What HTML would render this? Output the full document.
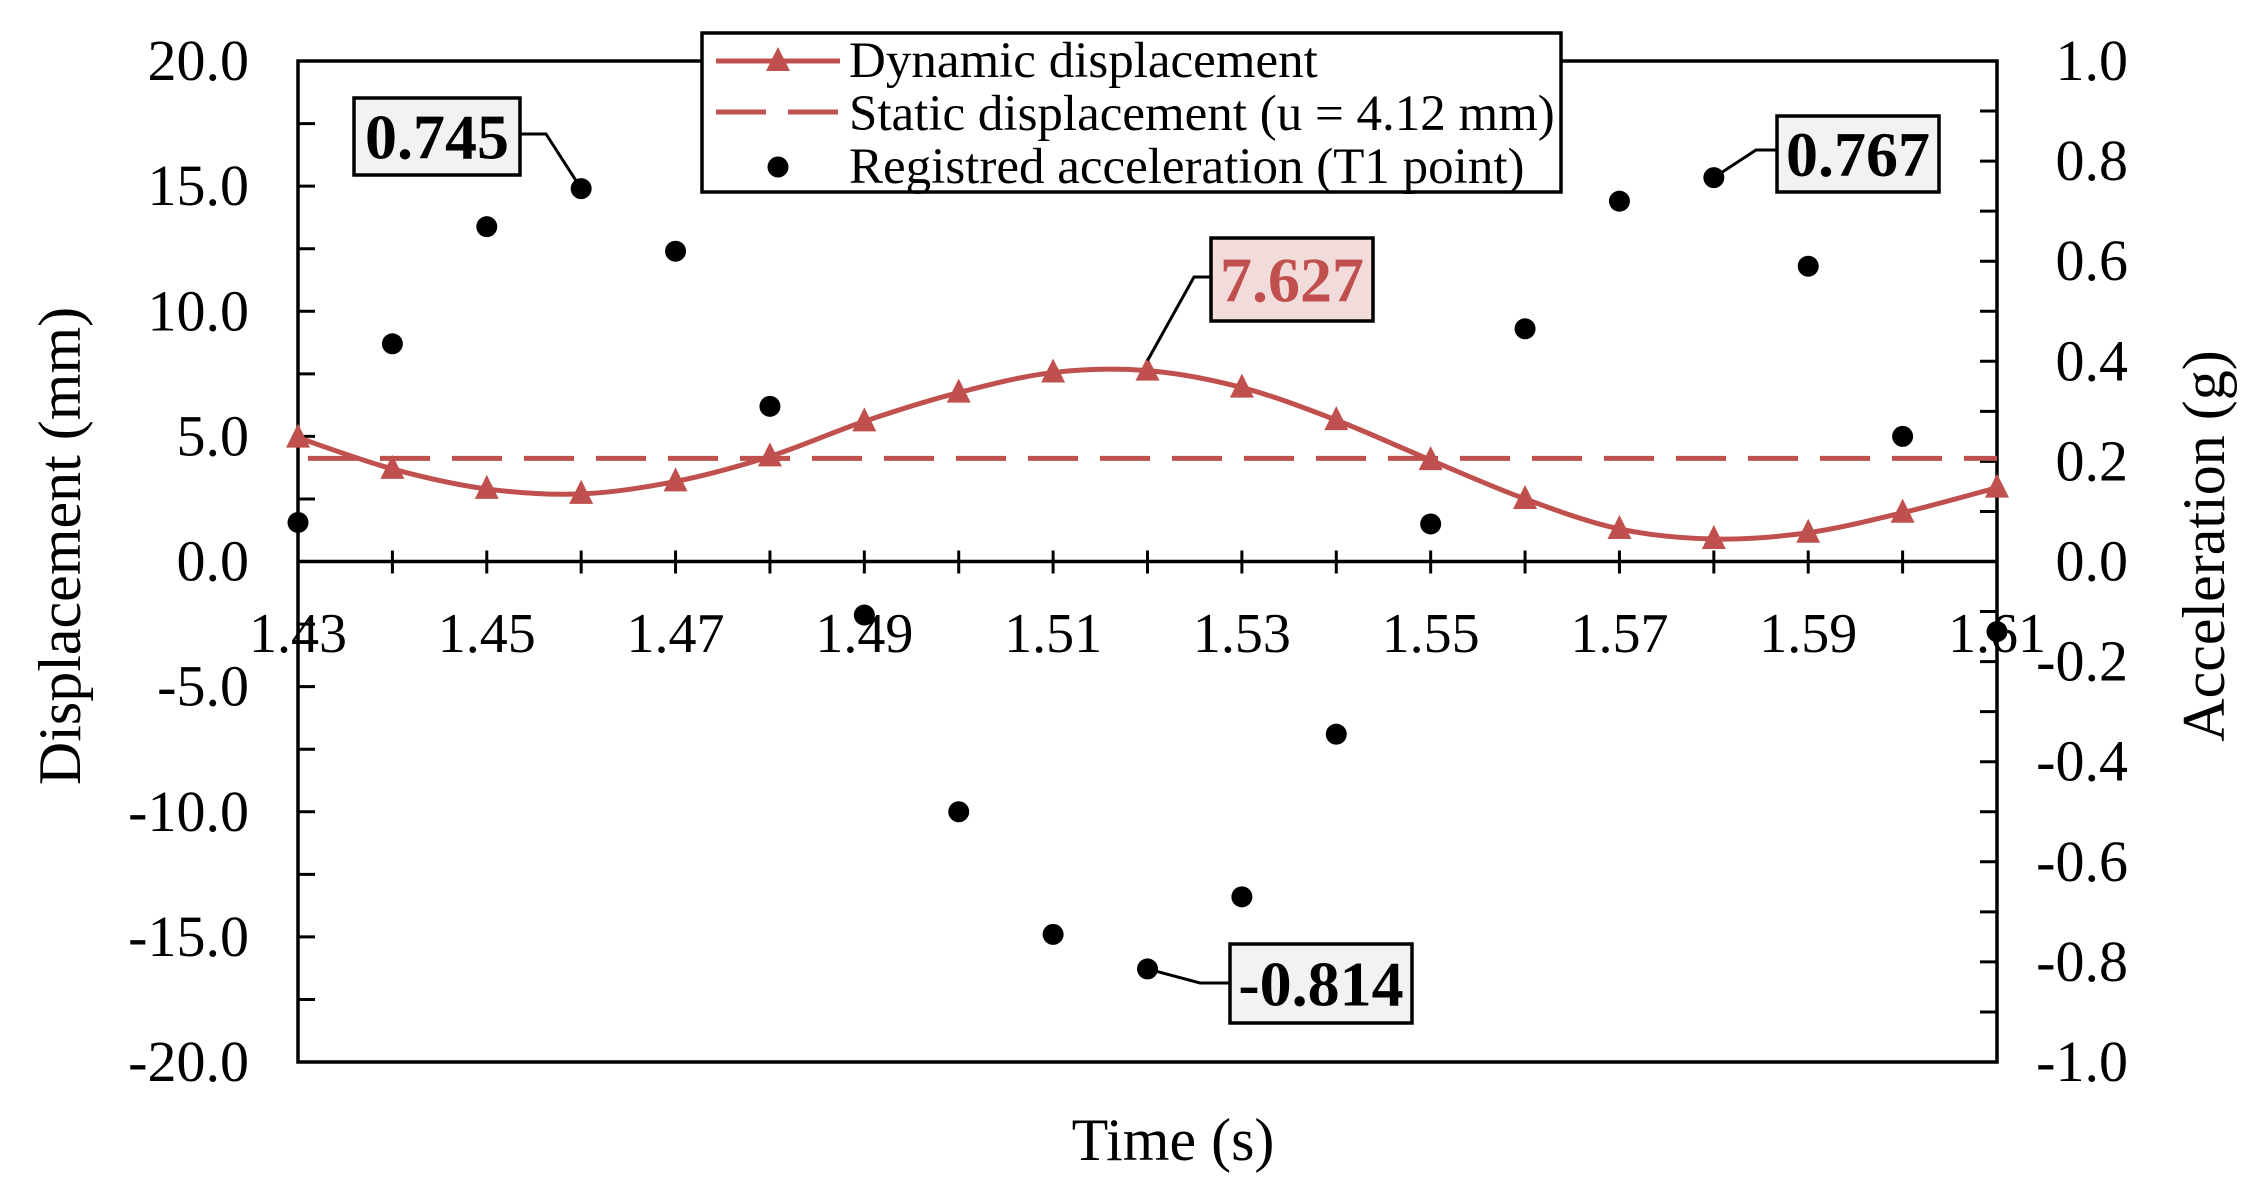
<!DOCTYPE html>
<html><head><meta charset="utf-8"><style>
html,body{margin:0;padding:0;background:#fff;}
svg{display:block;font-family:"Liberation Serif",serif;}
</style></head><body>
<svg id="chart" width="2266" height="1198" viewBox="0 0 2266 1198" xmlns="http://www.w3.org/2000/svg"></svg>
<script>
const times=[1.43,1.44,1.45,1.46,1.47,1.48,1.49,1.50,1.51,1.52,1.53,1.54,1.55,1.56,1.57,1.58,1.59,1.60,1.61];
const dynDisp=[4.95,3.7,2.9,2.7,3.2,4.2,5.6,6.75,7.55,7.627,6.95,5.65,4.05,2.5,1.3,0.9,1.15,1.95,2.95];
const accel=[0.078,0.435,0.669,0.745,0.62,0.31,-0.107,-0.5,-0.745,-0.814,-0.67,-0.345,0.075,0.465,0.72,0.767,0.59,0.25,-0.14];
const staticDisp=4.12;
const xTickLabels=["1.43","1.45","1.47","1.49","1.51","1.53","1.55","1.57","1.59","1.61"];
const leftTickLabels=["20.0","15.0","10.0","5.0","0.0","-5.0","-10.0","-15.0","-20.0"];
const rightTickLabels=["1.0","0.8","0.6","0.4","0.2","0.0","-0.2","-0.4","-0.6","-0.8","-1.0"];

const L=298,R=1997,T=61,B=1062,RED="#c0504d";
const X=t=>L+(t-1.43)/(0.18)*(R-L);
const Y=v=>T+(20-v)/40*(B-T);
const YA=a=>T+(1-a)/2*(B-T);
const NS="http://www.w3.org/2000/svg";
const svg=document.getElementById('chart');
function mk(tag,attrs,parent){const e=document.createElementNS(NS,tag);for(const k in attrs)e.setAttribute(k,attrs[k]);(parent||svg).appendChild(e);return e;}

const frame=mk('rect',{x:L,y:T,width:R-L,height:B-T,fill:'none',stroke:'#000','stroke-width':3.5});


const xaxis=mk('line',{x1:L,y1:Y(0),x2:R,y2:Y(0),stroke:'#000','stroke-width':3.5});



for(let v=-20;v<=20;v+=2.5){mk('line',{x1:L,y1:Y(v),x2:L+17,y2:Y(v),stroke:'#000','stroke-width':3});}
leftTickLabels.forEach(s=>{const v=parseFloat(s);const t=mk('text',{x:249,y:Y(v)+19,'text-anchor':'end','font-size':58,textLength:0});t.removeAttribute('textLength');t.textContent=s;

});
for(let i=-10;i<=10;i++){const a=i/10;mk('line',{x1:R-17,y1:YA(a),x2:R,y2:YA(a),stroke:'#000','stroke-width':3});}
rightTickLabels.forEach(s=>{const a=parseFloat(s);const t=mk('text',{x:2128,y:YA(a)+19,'text-anchor':'end','font-size':58});t.textContent=s;

});
times.forEach(t=>{mk('line',{x1:X(t),y1:Y(0)-11,x2:X(t),y2:Y(0)+12,stroke:'#000','stroke-width':3});});
xTickLabels.forEach(s=>{const t=parseFloat(s);const e=mk('text',{x:X(t),y:652,'text-anchor':'middle','font-size':56});e.textContent=s;

});

const st=mk('line',{x1:L+10,y1:Y(staticDisp),x2:R,y2:Y(staticDisp),stroke:RED,'stroke-width':5,'stroke-dasharray':'50,22'});



const pts=times.map((t,i)=>[X(t),Y(dynDisp[i])]);
let d=`M${pts[0][0]},${pts[0][1]}`;
for(let i=0;i<pts.length-1;i++){const p0=pts[Math.max(0,i-1)],p1=pts[i],p2=pts[i+1],p3=pts[Math.min(pts.length-1,i+2)];
d+=` C${p1[0]+(p2[0]-p0[0])/6},${p1[1]+(p2[1]-p0[1])/6} ${p2[0]-(p3[0]-p1[0])/6},${p2[1]-(p3[1]-p1[1])/6} ${p2[0]},${p2[1]}`;}
const dl=mk('path',{d:d,fill:'none',stroke:RED,'stroke-width':5});


pts.forEach(p=>{const m=mk('polygon',{points:`${p[0]},${p[1]-14} ${p[0]-12},${p[1]+10} ${p[0]+12},${p[1]+10}`,fill:RED});

});

times.forEach((t,i)=>{const c=mk('circle',{cx:X(t),cy:YA(accel[i]),r:10.5,fill:'#000'});

});

function callout(name,x,y,w,h,text,fill,color,path){
 const g=mk('g',{});
 
 
 mk('polyline',{points:path,fill:'none',stroke:'#000','stroke-width':3},g);
 mk('rect',{x:x,y:y,width:w,height:h,fill:fill,stroke:'#000','stroke-width':3.5},g);
 const tx=mk('text',{x:x+w/2,y:y+h/2+22,'text-anchor':'middle','font-size':64,'font-weight':'bold',fill:color},g);tx.textContent=text;
}
callout('annotation-max-0745',354,98,166,77,'0.745','#f2f2f2','#000',`520,134 546,134 ${X(1.46)},${YA(0.745)}`);
callout('annotation-peak-7627',1211,238,162,83,'7.627','#f2dcdb',RED,`1211,277 1194,277 ${X(1.52)},${Y(7.627)-10}`);
callout('annotation-max-0767',1777,116,162,76,'0.767','#f2f2f2','#000',`1777,150 1756,150 ${X(1.58)},${YA(0.767)}`);
callout('annotation-min-0814',1230,944,182,79,'-0.814','#f2f2f2','#000',`1230,983 1200,983 ${X(1.52)},${YA(-0.814)}`);

const lg=mk('g',{});


mk('rect',{x:702,y:33,width:859,height:159,fill:'#fff',stroke:'#000','stroke-width':3.5},lg);
mk('line',{x1:716,y1:61,x2:840,y2:61,stroke:RED,'stroke-width':5},lg);
mk('polygon',{points:'778,47 766,71 790,71',fill:RED},lg);
mk('line',{x1:716,y1:112,x2:840,y2:112,stroke:RED,'stroke-width':5,'stroke-dasharray':'50,22'},lg);
mk('circle',{cx:778,cy:167,r:10.5,fill:'#000'},lg);
[['Dynamic displacement',77],['Static displacement (u = 4.12 mm)',130],['Registred acceleration (T1 point)',183]].forEach(([s,y])=>{const t=mk('text',{x:849,y:y,'font-size':51},lg);t.textContent=s;

});

let t1=mk('text',{x:0,y:0,'text-anchor':'middle','font-size':60,transform:'translate(80,546) rotate(-90)'});t1.textContent='Displacement (mm)';


let t2=mk('text',{x:0,y:0,'text-anchor':'middle','font-size':60,transform:'translate(2224,546) rotate(-90)'});t2.textContent='Acceleration (g)';


let t3=mk('text',{x:1173,y:1160,'text-anchor':'middle','font-size':60});t3.textContent='Time (s)';


</script>
</body></html>
